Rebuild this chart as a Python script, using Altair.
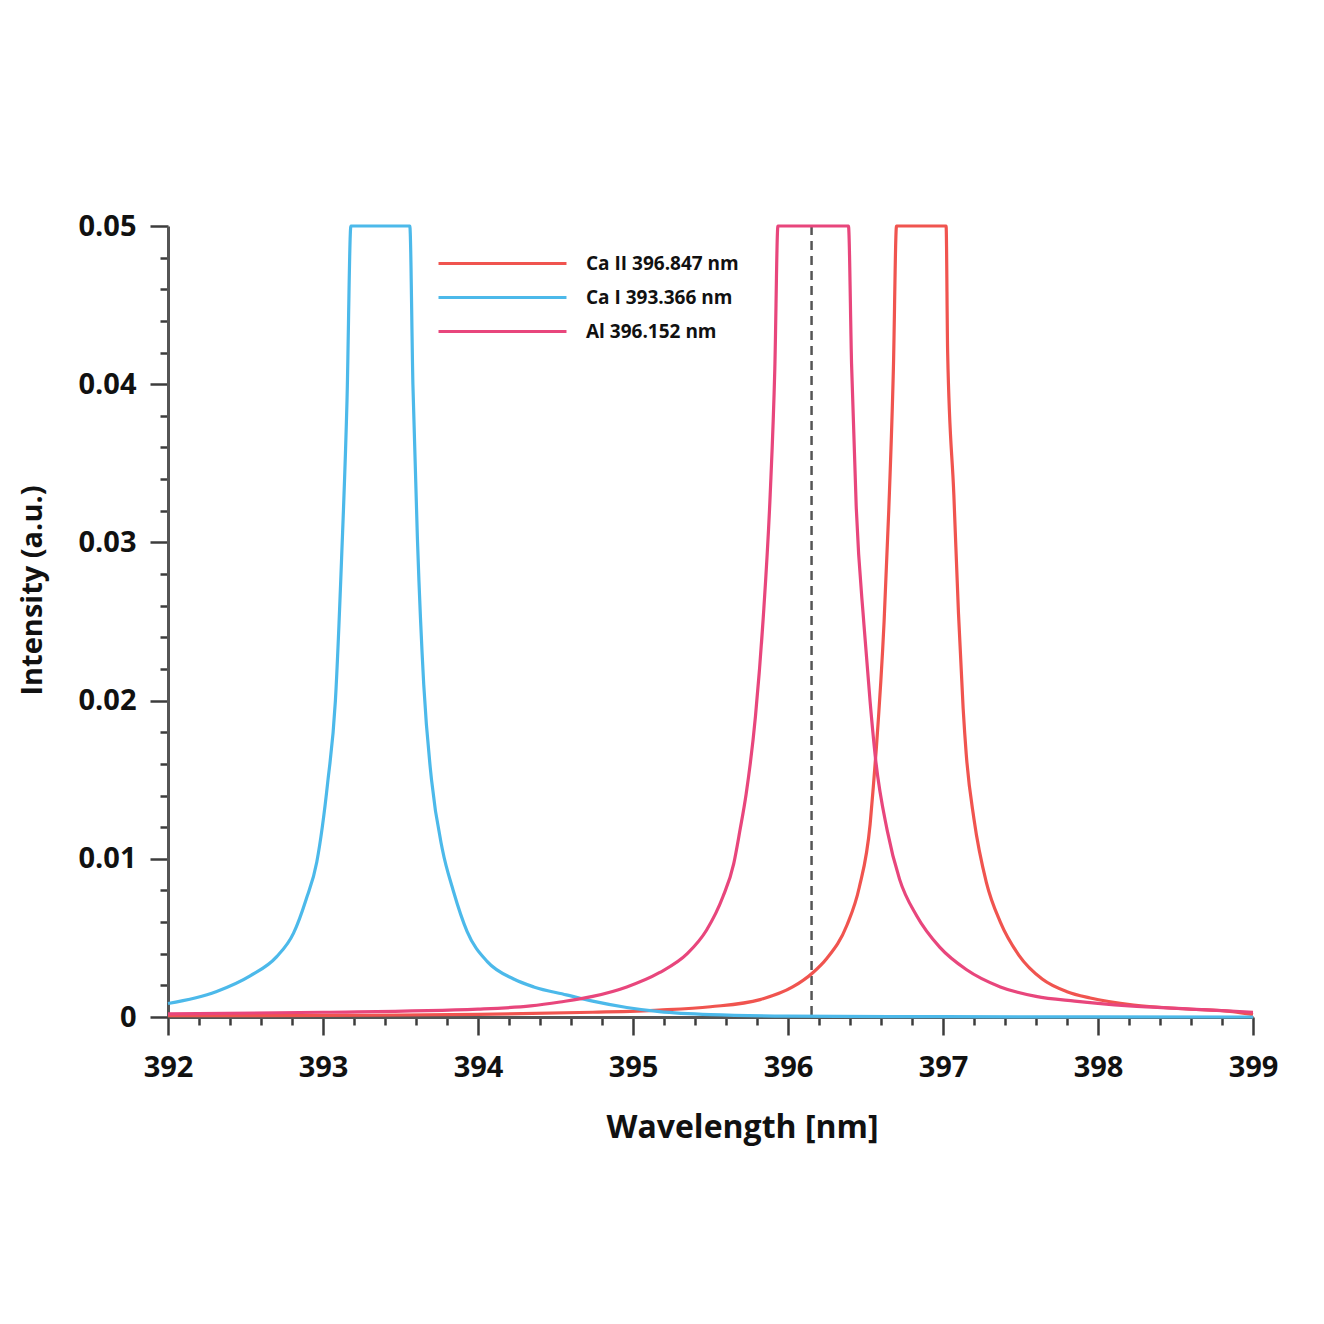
import altair as alt
import pandas as pd

# ---- data ----
series_names = ["Ca II 396.847 nm", "Ca I 393.366 nm", "Al 396.152 nm"]
series_colors = ["#f0544f", "#4cb9ea", "#e8467c"]

wl_ca2 = [392.0, 393.0, 394.0, 394.74, 395.17, 395.50, 395.82, 396.03, 396.16, 396.25,
          396.38, 396.46, 396.53, 396.55, 396.57, 396.62, 396.65, 396.68, 396.70, 397.02,
          397.03, 397.07, 397.10, 397.13, 397.15, 397.20, 397.28, 397.37, 397.49, 397.64,
          397.80, 397.95, 398.23, 398.55, 398.87, 399.0]
int_ca2 = [0.00008, 0.0001, 0.00016, 0.0003, 0.00044, 0.00065, 0.0011, 0.0019, 0.0028, 0.0037,
           0.0058, 0.0082, 0.0122, 0.0145, 0.0170, 0.0250, 0.0320, 0.0410, 0.05, 0.05,
           0.0420, 0.0330, 0.0255, 0.0195, 0.0166, 0.0125, 0.0085, 0.0060, 0.0039, 0.0024,
           0.0016, 0.0012, 0.00076, 0.00052, 0.00034, 0.00015]

wl_ca1 = [392.0, 392.31, 392.53, 392.70, 392.81, 392.89, 392.96, 393.03, 393.08, 393.12,
          393.155, 393.18, 393.56, 393.58, 393.61, 393.65, 393.70, 393.77, 393.84, 393.93,
          394.06, 394.23, 394.36, 394.57, 394.74, 394.96, 395.17, 395.5, 396.0, 397.0, 399.0]
int_ca1 = [0.00085, 0.0016, 0.0026, 0.0038, 0.0053, 0.0074, 0.0098, 0.0148, 0.020, 0.029,
           0.039, 0.050, 0.050, 0.040, 0.030, 0.021, 0.0150, 0.0106, 0.0080, 0.0054,
           0.0035, 0.0024, 0.0019, 0.0014, 0.0010, 0.0006, 0.00034, 0.00015, 0.00006, 0.00002, 0.0]

wl_al = [392.0, 393.0, 394.0, 394.34, 394.53, 394.74, 394.96, 395.17, 395.35, 395.475,
         395.58, 395.65, 395.69, 395.73, 395.79, 395.84, 395.885, 395.915, 395.935, 396.39,
         396.41, 396.44, 396.49, 396.53, 396.565, 396.64, 396.72, 396.83, 396.98, 397.15,
         397.37, 397.60, 397.85, 398.2, 398.6, 399.0]
int_al = [0.0002, 0.0003, 0.0005, 0.0007, 0.00095, 0.0013, 0.0019, 0.0028, 0.0040, 0.0055,
          0.0076, 0.0097, 0.0118, 0.0141, 0.0190, 0.0252, 0.0330, 0.0410, 0.05, 0.05,
          0.0413, 0.0323, 0.0248, 0.0199, 0.0163, 0.0118, 0.0087, 0.0064, 0.0044, 0.0030,
          0.0019, 0.0013, 0.0010, 0.0007, 0.0005, 0.0003]

marker_wl = [396.152]
marker_top = [0.05]
marker_bottom = [0.0]

# ---- tables ----
rows = []
for name, xs, ys in zip(series_names, [wl_ca2, wl_ca1, wl_al], [int_ca2, int_ca1, int_al]):
    for i, (x, y) in enumerate(zip(xs, ys)):
        rows.append({"series": name, "wl": x, "I": y, "order": i})
df = pd.DataFrame(rows)
df_marker = pd.DataFrame({"wl": marker_wl, "top": marker_top, "bottom": marker_bottom})

x_ticks = [round(392 + 0.2 * i, 1) for i in range(36)]
y_ticks = [round(0.002 * i, 3) for i in range(26)]

FONT = "Open Sans"
AX = "#3c3c3c"

x_major = "abs(datum.value - round(datum.value)) < 0.001"
y_major = "abs(datum.value * 100 - round(datum.value * 100)) < 0.001"

x_scale = alt.Scale(domain=[392, 399], nice=False, zero=False)
y_scale = alt.Scale(domain=[0, 0.05], nice=False, zero=True)

x_axis = alt.Axis(
    values=x_ticks,
    tickCount=200,
    title="Wavelength [nm]",
    labelExpr=f"{x_major} ? format(datum.value, 'd') : ''",
    labelOverlap=False,
    labelFlush=False,
    labelFont=FONT, labelFontSize=29, labelFontWeight="bold", labelColor="#111111",
    labelPadding=18,
    tickSize={"condition": {"test": x_major, "value": 18}, "value": 8},
    tickWidth=2.5, tickColor=AX,
    domainColor="#555555", domainWidth=3,
    titleFont=FONT, titleFontSize=32, titleFontWeight="bold", titleColor="#111111",
    titlePadding=30, titleX=574,
    grid=False,
)
y_axis = alt.Axis(
    values=y_ticks,
    tickCount=200,
    title="Intensity (a.u.)",
    labelExpr=f"{y_major} ? (datum.value == 0 ? '0' : format(datum.value, '.2f')) : ''",
    labelOverlap=False,
    labelFlush=False,
    labelFont=FONT, labelFontSize=29, labelFontWeight="bold", labelColor="#111111",
    labelPadding=14,
    tickSize={"condition": {"test": y_major, "value": 18}, "value": 8},
    tickWidth=2.5, tickColor=AX,
    domainColor="#555555", domainWidth=3,
    titleFont=FONT, titleFontSize=29, titleFontWeight="bold", titleColor="#111111",
    titlePadding=30, titleY=364,
    grid=False,
)

lines = alt.Chart(df).mark_line(strokeWidth=3.2, interpolate="monotone").encode(
    x=alt.X("wl:Q", scale=x_scale, axis=x_axis),
    y=alt.Y("I:Q", scale=y_scale, axis=y_axis),
    color=alt.Color(
        "series:N",
        scale=alt.Scale(domain=series_names, range=series_colors),
        legend=alt.Legend(
            title=None, orient="none", legendX=320, legendY=23,
            symbolType="M-5,0H5", symbolSize=655, symbolStrokeWidth=3,
            labelOffset=69, rowPadding=9,
            labelFont=FONT, labelFontSize=19, labelFontWeight="bold", labelColor="#111111",
        ),
    ),
    order="order:Q",
)

marker = alt.Chart(df_marker).mark_rule(
    color="#555555", strokeWidth=2.5, strokeDash=[9, 6]
).encode(
    x=alt.X("wl:Q", scale=x_scale),
    y=alt.Y("top:Q", scale=y_scale),
    y2="bottom:Q",
)

chart = alt.layer(marker, lines).properties(
    width=1085, height=791,
    autosize=alt.AutoSizeParams(type="none"),
    padding={"left": 160, "top": 218, "right": 50, "bottom": 150},
    background="white",
).configure_view(stroke=None)

chart.save("out.html", embed_options={"renderer": "svg", "actions": False})
